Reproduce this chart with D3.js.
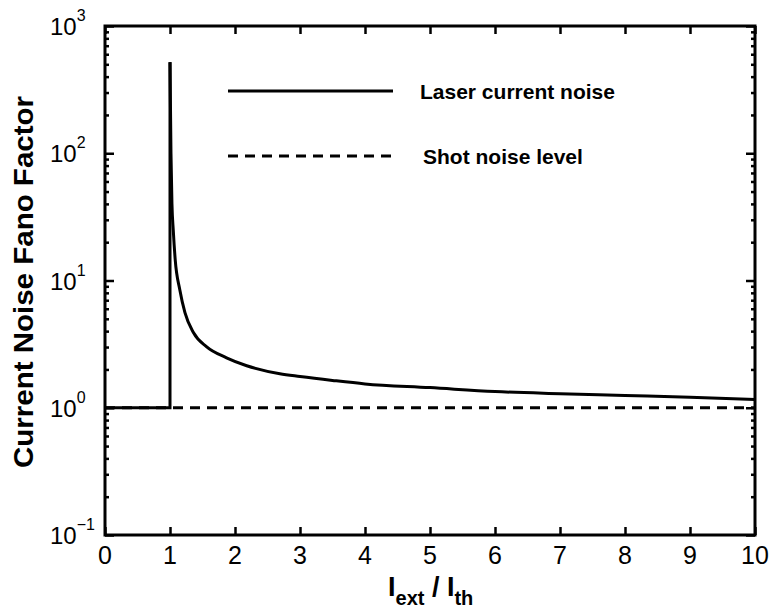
<!DOCTYPE html>
<html>
<head>
<meta charset="utf-8">
<script src="https://cdn.jsdelivr.net/npm/d3@7"></script>
<style>
  body { margin: 0; background: #fff; }
  svg { font-family: "Liberation Sans", Arial, Helvetica, sans-serif; }
</style>
</head>
<body>
<svg id="chart" width="772" height="611"></svg>
<script>
// laser current noise, below threshold (flat at shot noise) then the spike
const stepX = [0, 1, 1];
const stepY = [1, 1, 520];
// decay after the spike
const decayX = [1, 1.015, 1.03, 1.05, 1.08, 1.15, 1.23, 1.36, 1.56, 1.87, 2.18, 2.69, 3, 3.5, 4, 5, 6, 7, 8, 9, 10];
const decayY = [520, 100, 40, 25, 14.6, 8.5, 5.6, 3.9, 3.02, 2.47, 2.14, 1.85, 1.76, 1.64, 1.54, 1.44, 1.34, 1.29, 1.25, 1.21, 1.16];
// shot noise level
const shotX = [0, 10];
const shotY = [1, 1];

const xTicks = [0, 1, 2, 3, 4, 5, 6, 7, 8, 9, 10];
const yExps = [-1, 0, 1, 2, 3];

const legendLabels = ["Laser current noise", "Shot noise level"];

const svg = d3.select("#chart");
const mLeft = 105, mRight = 755, mTop = 26, mBottom = 535;

const x = d3.scaleLinear().domain([0, 10]).range([mLeft, mRight]);
const y = d3.scaleLog().domain([0.1, 1000]).range([mBottom, mTop]);

// minor log ticks
const minorY = [];
yExps.slice(0, -1).forEach(e => {
  for (let k = 2; k <= 9; k++) minorY.push(k * Math.pow(10, e));
});

const g = svg.append("g");
const line = d3.line().x(d => x(d[0])).y(d => y(d[1]));
const smooth = d3.line().x(d => x(d[0])).y(d => y(d[1])).curve(d3.curveMonotoneX);

g.append("path")
  .datum(shotX.map((v, i) => [v, shotY[i]]))
  .attr("d", line)
  .attr("fill", "none")
  .attr("stroke", "#000")
  .attr("stroke-width", 3)
  .attr("stroke-dasharray", "10,7");

g.append("path")
  .datum(stepX.map((v, i) => [v, stepY[i]]))
  .attr("d", line)
  .attr("fill", "none")
  .attr("stroke", "#000")
  .attr("stroke-width", 3);

g.append("path")
  .datum(decayX.map((v, i) => [v, decayY[i]]))
  .attr("d", smooth)
  .attr("fill", "none")
  .attr("stroke", "#000")
  .attr("stroke-width", 3);

// axes (ticks pointing inward)
const yMajor = yExps.map(e => Math.pow(10, e));
const axes = [
  [d3.axisBottom(x).tickValues(xTicks).tickSize(-8), `translate(0,${mBottom})`],
  [d3.axisTop(x).tickValues(xTicks).tickSize(-8), `translate(0,${mTop})`],
  [d3.axisLeft(y).tickValues(yMajor).tickSize(-9), `translate(${mLeft},0)`],
  [d3.axisRight(y).tickValues(yMajor).tickSize(-9), `translate(${mRight},0)`],
  [d3.axisLeft(y).tickValues(minorY).tickSize(-4), `translate(${mLeft},0)`],
  [d3.axisRight(y).tickValues(minorY).tickSize(-4), `translate(${mRight},0)`]
];
axes.forEach(([ax, tr]) => {
  const a = svg.append("g").attr("transform", tr).call(ax.tickFormat(""));
  a.select(".domain").remove();
  a.selectAll(".tick text").remove();
  a.selectAll(".tick line").attr("stroke", "#000").attr("stroke-width", 2.5);
});

// frame
svg.append("rect")
  .attr("x", mLeft).attr("y", mTop)
  .attr("width", mRight - mLeft).attr("height", mBottom - mTop)
  .attr("fill", "none").attr("stroke", "#000").attr("stroke-width", 3);

// x tick labels
svg.append("g").selectAll("text")
  .data(xTicks)
  .join("text")
  .attr("x", d => x(d))
  .attr("y", 564)
  .attr("text-anchor", "middle")
  .attr("font-size", 25)
  .text(d => d);

// y tick labels 10^n
const yLab = svg.append("g");
yExps.forEach(e => {
  const t = yLab.append("text")
    .attr("x", 50)
    .attr("y", y(Math.pow(10, e)) + 9)
    .attr("font-size", 24)
    .attr("fill", "#000");
  t.append("tspan").text("10");
  t.append("tspan").attr("font-size", 16).attr("dy", -14).text(e < 0 ? "\u2212" + Math.abs(e) : e);
});

// axis titles
svg.append("text")
  .attr("transform", `translate(33,282) rotate(-90)`)
  .attr("text-anchor", "middle")
  .attr("font-size", 27)
  .attr("font-weight", "bold")
  .attr("textLength", 372)
  .attr("lengthAdjust", "spacingAndGlyphs")
  .text("Current Noise Fano Factor");

const xt = svg.append("text")
  .attr("x", 388)
  .attr("y", 596)
  .attr("font-weight", "bold")
  .attr("font-size", 27);
xt.append("tspan").text("I");
xt.append("tspan").attr("font-size", 20).attr("dy", 9).text("ext");
xt.append("tspan").attr("dy", -9).text(" / I");
xt.append("tspan").attr("font-size", 20).attr("dy", 9).text("th");

// legend
const legend = svg.append("g");
legendLabels.forEach((lab, i) => {
  const ly = i === 0 ? 91 : 156;
  legend.append("line")
    .attr("x1", 228).attr("x2", 393)
    .attr("y1", ly).attr("y2", ly)
    .attr("stroke", "#000")
    .attr("stroke-width", 3)
    .attr("stroke-dasharray", i === 0 ? null : "10,7");
  legend.append("text")
    .attr("x", i === 0 ? 420 : 423)
    .attr("y", ly + 8)
    .attr("font-size", 21)
    .attr("font-weight", "bold")
    .text(lab);
});
</script>
</body>
</html>
